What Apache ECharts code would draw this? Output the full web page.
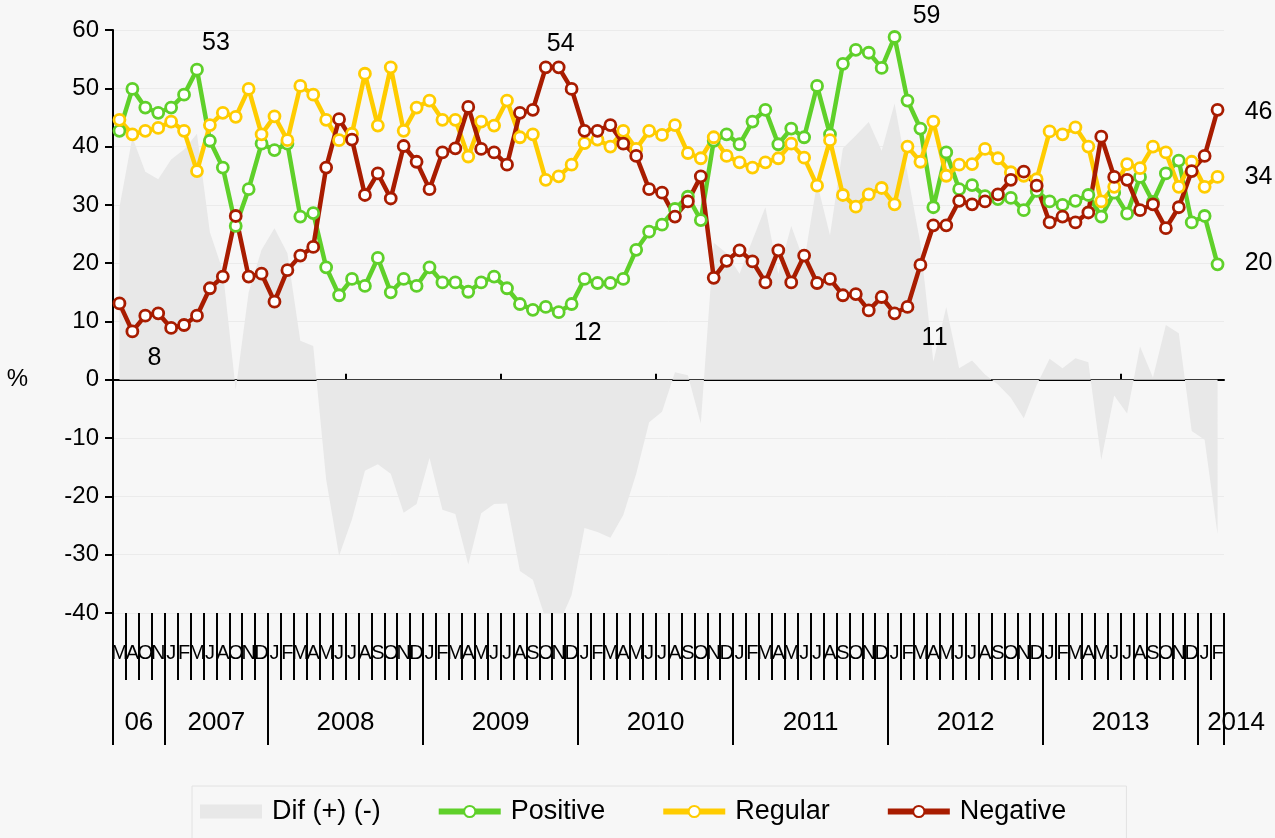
<!DOCTYPE html>
<html>
<head>
<meta charset="utf-8">
<script src="https://cdn.jsdelivr.net/npm/echarts@6/dist/echarts.min.js"></script>
<style>
html,body{margin:0;padding:0;background:#f7f7f7;}
#c{width:1275px;height:838px;}
</style>
</head>
<body>
<div id="c"></div>
<script>
// ---------- DATA ----------
const monthLabels = [
  'M','A','O','N',
  'J','F','M','J','A','O','N','D',
  'J','F','M','A','M','J','J','A','S','O','N','D',
  'J','F','M','A','M','J','J','A','S','O','N','D',
  'J','F','M','A','M','J','J','A','S','O','N','D',
  'J','F','M','A','M','J','J','A','S','O','N','D',
  'J','F','M','A','M','J','J','A','S','O','N','D',
  'J','F','M','A','M','J','J','A','S','O','N','D',
  'J','F'
];
const years = ['06','2007','2008','2009','2010','2011','2012','2013','2014'];
const monthsPerYear = [4,8,12,12,12,12,12,12,2];

const positive = [42.7,49.9,46.7,45.8,46.7,48.9,53.2,41.0,36.4,26.4,
  32.7,40.5,39.4,40.5,28.0,28.6,19.3,14.5,17.3,16.1,
  20.9,15.0,17.3,16.1,19.3,16.7,16.7,15.1,16.7,17.7,
  15.7,13.0,12.0,12.5,11.6,13.0,17.3,16.6,16.6,17.3,
  22.3,25.4,26.6,29.3,31.4,27.4,41.0,42.1,40.4,44.3,
  46.3,40.4,43.1,41.6,50.4,42.1,54.2,56.6,56.1,53.5,
  58.8,47.9,43.1,29.6,39.0,32.7,33.4,31.5,31.0,31.2,
  29.1,32.4,30.6,30.0,30.7,31.7,28.0,32.1,28.5,34.8,
  30.5,35.4,37.6,27.0,28.1,19.8];

const regular = [44.6,42.1,42.7,43.2,44.3,42.7,35.8,43.7,45.8,45.1,
  49.9,42.1,45.2,41.1,50.4,48.9,44.6,41.1,42.2,52.5,
  43.6,53.6,42.7,46.7,47.9,44.6,44.6,38.3,44.3,43.6,
  47.9,41.6,42.1,34.3,34.9,36.9,40.6,41.2,40.0,42.7,
  39.6,42.7,42.0,43.7,38.9,38.0,41.6,38.4,37.3,36.4,
  37.3,38.0,40.5,38.1,33.3,41.1,31.7,29.7,31.8,32.9,
  30.1,40.0,37.4,44.3,35.0,36.9,37.0,39.6,38.0,35.6,
  35.0,34.4,42.6,42.1,43.3,40.0,30.6,33.1,37.0,36.3,
  40.0,39.0,33.1,37.4,33.1,34.8];

const negative = [13.1,8.3,11.0,11.4,8.9,9.4,11.0,15.7,17.7,28.1,
  17.7,18.2,13.4,18.8,21.3,22.8,36.4,44.7,41.2,31.7,
  35.4,31.1,40.1,37.4,32.7,39.0,39.7,46.8,39.6,39.0,
  36.9,45.8,46.3,53.6,53.6,49.9,42.7,42.7,43.7,40.5,
  38.4,32.7,32.1,28.0,30.6,34.9,17.5,20.4,22.2,20.3,
  16.7,22.2,16.7,21.3,16.6,17.3,14.5,14.7,11.9,14.2,
  11.4,12.5,19.7,26.5,26.5,30.7,30.1,30.6,31.8,34.3,
  35.7,33.3,27.0,28.0,27.0,28.7,41.7,34.8,34.3,29.1,
  30.1,26.0,29.6,35.8,38.4,46.3];

const dif = [29.6,41.6,35.7,34.4,37.8,39.5,42.2,25.3,18.7,-1.7,
  15.0,22.3,26.0,21.7,6.7,5.8,-17.1,-30.2,-23.9,-15.6,
  -14.5,-16.1,-22.8,-21.3,-13.4,-22.3,-23.0,-31.7,-22.9,-21.3,
  -21.2,-32.8,-34.3,-41.1,-42.0,-36.9,-25.4,-26.1,-27.1,-23.2,
  -16.1,-7.3,-5.5,1.3,0.8,-7.5,23.5,21.7,18.2,24.0,
  29.6,18.2,26.4,20.3,33.8,24.8,39.7,41.9,44.2,39.3,
  47.4,35.4,23.4,3.1,12.5,2.0,3.3,0.9,-0.8,-3.1,
  -6.6,-0.9,3.6,2.0,3.7,3.0,-13.7,-2.7,-5.8,5.7,
  0.4,9.4,8.0,-8.8,-10.3,-26.5];

const seriesNames = ['Dif (+) (-)','Positive','Regular','Negative'];
const yMin = -40, yMax = 60, yStep = 10;

// annotated points: index, text
const positiveNotes = [{i:6,t:'53'},{i:34,t:'12'},{i:60,t:'59'},{i:85,t:'20'}];
const regularNotes  = [{i:85,t:'34'}];
const negativeNotes = [{i:1,t:'8'},{i:33,t:'54'},{i:60,t:'11'},{i:85,t:'46'}];

// ---------- STYLE / BUILD ----------
const FONT = "'Liberation Sans', Arial, Helvetica, sans-serif";
const C_POS = '#5fd02a', C_REG = '#ffcc00', C_NEG = '#a81c00', C_DIF = '#e8e8e8';

const noteOffsets = {
  'Positive': {6:[19,-27], 34:[29,21], 60:[32,-21], 85:[41,-1]},
  'Regular':  {85:[41,0]},
  'Negative': {1:[22,27], 33:[15,-23], 60:[40,25], 85:[41,2]}
};

function withNotes(name, values, notes){
  return values.map((v,i)=>{
    const n = notes.find(x=>x.i===i);
    if(!n) return v;
    return {value:v, label:{show:true, formatter:n.t, position:'inside',
      offset:noteOffsets[name][i], color:'#000', fontSize:25, fontFamily:FONT}};
  });
}

const catKeys = monthLabels.map((m,i)=> i+'|'+m);
const boundaries = [0];
monthsPerYear.forEach(n=>boundaries.push(boundaries[boundaries.length-1]+n));
const boundaryKeys = Array.from({length:monthLabels.length+1},(_,i)=>'b'+i);
const yearLabelAt = {};
years.forEach((y,k)=>{ yearLabelAt[boundaries[k]+monthsPerYear[k]/2] = y; });
const lastYearLabelIdx = boundaries[years.length-1] + monthsPerYear[years.length-1]/2;

function lineSeries(name, color, data){
  return {
    name, type:'line', xAxisIndex:0, yAxisIndex:0, data,
    symbol:'circle', symbolSize:11, showAllSymbol:true,
    lineStyle:{color, width:4.5},
    itemStyle:{color:'#ffffff', borderColor:color, borderWidth:2.8},
    emphasis:{disabled:true}, z:3
  };
}

const option = {
  backgroundColor:'#f7f7f7',
  animation:false,
  textStyle:{fontFamily:FONT, color:'#000'},
  grid:{left:113, right:51, top:30, bottom:225, containLabel:false, outerBoundsMode:'none'},
  legend:{
    left:192, top:786, itemWidth:62, itemHeight:14, itemGap:55,
    padding:[12,60,20,8], borderColor:'#e2e2e2', borderWidth:1,
    lineStyle:{width:6},
    itemStyle:{borderWidth:2},
    textStyle:{fontSize:27, color:'#000', fontFamily:FONT, padding:[0,0,0,5]},
    data:[{name:seriesNames[0], icon:'rect'}, seriesNames[1], seriesNames[2], seriesNames[3]],
    selectedMode:false
  },
  xAxis:[
    { // months
      type:'category', data:catKeys, boundaryGap:true, position:'bottom',
      axisLine:{show:false, onZero:false},
      axisTick:{show:true, interval:0, length:67, lineStyle:{color:'#000', width:2}},
      axisLabel:{interval:0, formatter:v=>v.split('|')[1], fontSize:20, margin:30, color:'#000', fontFamily:FONT},
      splitLine:{show:false}
    },
    { // years
      type:'category', data:boundaryKeys, boundaryGap:false, position:'bottom',
      axisLine:{show:false, onZero:false},
      axisTick:{show:true, interval:(i)=>boundaries.indexOf(i)>=0, length:132, lineStyle:{color:'#000', width:2}},
      axisLabel:{
        interval:(i)=>yearLabelAt[i]!==undefined,
        formatter:(v,i)=> i===lastYearLabelIdx ? '{s|'+yearLabelAt[i]+'}' : (yearLabelAt[i]||''),
        rich:{s:{fontSize:26, padding:[0,0,0,50], fontFamily:FONT, color:'#000'}},
        fontSize:26, margin:97, color:'#000', fontFamily:FONT
      },
      splitLine:{show:false}
    },
    { // zero line
      type:'category', data:boundaryKeys, boundaryGap:false, position:'bottom',
      axisLine:{show:true, onZero:true, onZeroAxisIndex:0, lineStyle:{color:'#000', width:2}},
      axisTick:{show:true, inside:true, length:6, interval:(i)=>i%12===6, lineStyle:{color:'#000', width:2}},
      axisLabel:{show:false}, splitLine:{show:false}
    }
  ],
  yAxis:[
    {
      type:'value', min:yMin, max:yMax, interval:yStep, position:'left',
      axisLine:{show:true, lineStyle:{color:'#000', width:2}},
      axisTick:{show:true, length:8, lineStyle:{color:'#000', width:2}},
      axisLabel:{fontSize:24, color:'#000', margin:14, fontFamily:FONT},
      splitLine:{show:true, lineStyle:{color:'#ebebeb', width:1}}
    },
    {
      type:'value', min:yMin, max:yMax, interval:yStep, position:'left',
      axisLine:{show:false}, axisTick:{show:false}, splitLine:{show:false},
      axisLabel:{formatter:v=>v===0?'%':'', fontSize:24, color:'#000', margin:85, fontFamily:FONT}
    }
  ],
  series:[
    {
      name:seriesNames[0], type:'line', xAxisIndex:0, yAxisIndex:0, data:dif,
      symbol:'none', lineStyle:{width:0, color:C_DIF},
      itemStyle:{color:C_DIF}, areaStyle:{color:C_DIF, opacity:1},
      emphasis:{disabled:true}, z:1
    },
    lineSeries(seriesNames[1], C_POS, withNotes('Positive', positive, positiveNotes)),
    lineSeries(seriesNames[2], C_REG, withNotes('Regular', regular, regularNotes)),
    lineSeries(seriesNames[3], C_NEG, withNotes('Negative', negative, negativeNotes))
  ]
};

const chart = echarts.init(document.getElementById('c'));
chart.setOption(option);
</script>
</body>
</html>
